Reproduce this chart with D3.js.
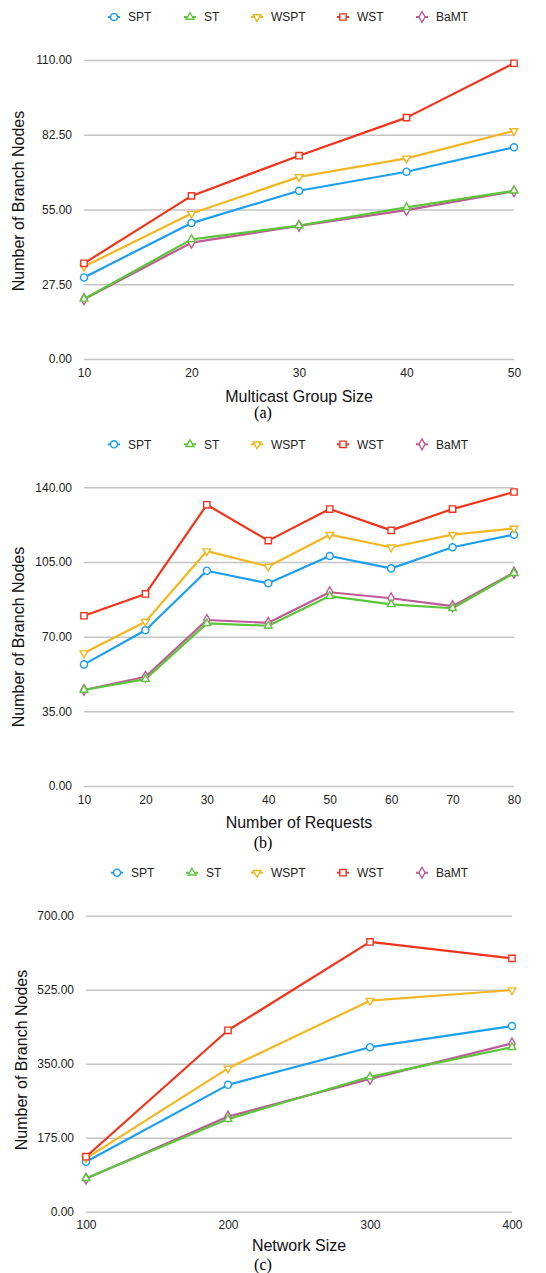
<!DOCTYPE html>
<html>
<head>
<meta charset="utf-8">
<script src="https://cdn.jsdelivr.net/npm/d3@7"></script>
<style>
  body { margin: 0; background: #fff; }
  svg { display: block; font-family: "Liberation Sans", Arial, sans-serif; }
</style>
</head>
<body>
<div id="chart"></div>
<script>
// series names, shared by the three panels
const seriesNames = ["SPT", "ST", "WSPT", "WST", "BaMT"];

// (a) Multicast Group Size
const groupSizes = [10, 20, 30, 40, 50];
const groupTicks = [0, 27.5, 55, 82.5, 110];
const groupSPT  = [30.0, 50.0, 61.9, 68.9, 77.9];
const groupST   = [22.1, 44.0, 49.1, 55.8, 61.9];
const groupWSPT = [34.0, 53.5, 67.0, 73.8, 83.9];
const groupWST  = [35.2, 60.0, 74.8, 88.8, 108.8];
const groupBaMT = [22.0, 42.8, 49.0, 54.8, 61.7];

// (b) Number of Requests
const requests = [10, 20, 30, 40, 50, 60, 70, 80];
const requestTicks = [0, 35, 70, 105, 140];
const reqSPT  = [57.0, 73.0, 100.9, 95.0, 107.8, 102.0, 111.9, 117.8];
const reqST   = [45.0, 50.1, 76.2, 75.1, 89.0, 85.1, 83.3, 99.7];
const reqWSPT = [62.3, 77.0, 110.1, 102.9, 117.8, 111.9, 117.8, 120.7];
const reqWST  = [79.8, 90.0, 131.8, 115.0, 129.8, 119.8, 129.8, 137.8];
const reqBaMT = [45.0, 51.2, 77.8, 76.5, 90.8, 88.0, 84.3, 100.0];

// (c) Network Size
const netSizes = [100, 200, 300, 400];
const netTicks = [0, 175, 350, 525, 700];
const netSPT  = [118, 300, 389, 439];
const netST   = [79, 219, 319, 389];
const netWSPT = [126, 339, 499, 524];
const netWST  = [130, 429, 638, 599];
const netBaMT = [78, 225, 314, 398];

const colors = { SPT: "#1a9ff0", ST: "#5cc63a", WSPT: "#f2b620", WST: "#f2331a", BaMT: "#bf5a96" };
const symbols = {
  SPT: d3.symbolCircle, ST: d3.symbolTriangle, WSPT: d3.symbolTriangle,
  WST: d3.symbolSquare, BaMT: d3.symbolDiamond
};
const symbolSize = { SPT: 40, ST: 26, WSPT: 26, WST: 40, BaMT: 34 };
// draw order: green over pink, as in the picture
const drawOrder = ["BaMT", "ST", "SPT", "WSPT", "WST"];

const width = 546, height = 1273;
const svg = d3.select("#chart").append("svg")
  .attr("width", width)
  .attr("height", height);

const panels = [
  { xs: groupSizes, ticks: groupTicks, title: "Multicast Group Size", caption: "(a)",
    data: { SPT: groupSPT, ST: groupST, WSPT: groupWSPT, WST: groupWST, BaMT: groupBaMT },
    x0: 84, x1: 514, top: 60, bottom: 359, ylabel: 201, ylabelX: 18, titleY: 396, captionY: 418,
    legendX: [114, 190, 257, 343, 422] },
  { xs: requests, ticks: requestTicks, title: "Number of Requests", caption: "(b)",
    data: { SPT: reqSPT, ST: reqST, WSPT: reqWSPT, WST: reqWST, BaMT: reqBaMT },
    x0: 84, x1: 514, top: 487.3, bottom: 786, ylabel: 637, ylabelX: 18, titleY: 822, captionY: 847.5,
    legendX: [114, 190, 257, 343, 422] },
  { xs: netSizes, ticks: netTicks, title: "Network Size", caption: "(c)",
    data: { SPT: netSPT, ST: netST, WSPT: netWSPT, WST: netWST, BaMT: netBaMT },
    x0: 86, x1: 512, top: 915.7, bottom: 1211.7, ylabel: 1060, ylabelX: 21, titleY: 1245.5, captionY: 1269.5,
    legendX: [117, 192, 257, 343, 422] }
];

panels.forEach(p => drawPanel(p));

function drawPanel(p) {
  const g = svg.append("g");
  const x = d3.scaleLinear()
    .domain(d3.extent(p.xs))
    .range([p.x0, p.x1]);
  const y = d3.scaleLinear()
    .domain([0, d3.max(p.ticks)])
    .range([p.bottom, p.top]);

  // gridlines + y tick labels
  const yAxis = g.append("g")
    .attr("transform", "translate(" + p.x0 + ",0)")
    .call(d3.axisLeft(y).tickValues(p.ticks).tickFormat(d3.format(".2f"))
      .tickSize(-(p.x1 - p.x0)).tickPadding(12));
  yAxis.select(".domain").remove();
  yAxis.selectAll("line").attr("stroke", "#c4c4c4").attr("stroke-width", 1.5);
  yAxis.selectAll("text").attr("font-size", 12).attr("fill", "#222")
    .attr("font-family", "Liberation Sans, Arial, sans-serif");

  // x tick labels
  const xAxis = g.append("g")
    .attr("transform", "translate(0," + p.bottom + ")")
    .call(d3.axisBottom(x).tickValues(p.xs).tickSize(0).tickPadding(9));
  xAxis.select(".domain").remove();
  xAxis.selectAll("text").attr("font-size", 12).attr("fill", "#222")
    .attr("font-family", "Liberation Sans, Arial, sans-serif");

  // lines
  const line = d3.line()
    .x((d, i) => x(p.xs[i]))
    .y(d => y(d));
  drawOrder.forEach(name => {
    g.append("path")
      .datum(p.data[name])
      .attr("fill", "none")
      .attr("stroke", colors[name])
      .attr("stroke-width", 2.2)
      .attr("stroke-linejoin", "round")
      .attr("d", line);
  });
  drawOrder.forEach(name => {
    g.selectAll(null)
      .data(p.data[name])
      .enter().append("path")
      .attr("d", d3.symbol().type(symbols[name]).size(symbolSize[name]))
      .attr("transform", (d, i) => "translate(" + x(p.xs[i]) + "," + y(d) + ")" +
        (name === "WSPT" ? " rotate(180)" : ""))
      .attr("fill", "#fff")
      .attr("stroke", colors[name])
      .attr("stroke-width", 1.4);
  });

  // legend
  const ly = p.top - 43;
  seriesNames.forEach((name, i) => {
    const lx = p.legendX[i];
    g.append("line")
      .attr("x1", lx - 6).attr("x2", lx + 6)
      .attr("y1", ly).attr("y2", ly)
      .attr("stroke", colors[name]).attr("stroke-width", 2);
    g.append("path")
      .attr("d", d3.symbol().type(symbols[name]).size(symbolSize[name]))
      .attr("transform", "translate(" + lx + "," + ly + ")" + (name === "WSPT" ? " rotate(180)" : ""))
      .attr("fill", "#fff")
      .attr("stroke", colors[name])
      .attr("stroke-width", 1.4);
    g.append("text")
      .attr("x", lx + 14)
      .attr("y", ly)
      .attr("dy", "0.35em")
      .attr("font-size", 12)
      .attr("fill", "#222")
      .text(name);
  });

  // axis titles
  g.append("text")
    .attr("transform", "translate(" + p.ylabelX + "," + p.ylabel + ") rotate(-90)")
    .attr("text-anchor", "middle")
    .attr("dy", "0.35em")
    .attr("font-size", 16)
    .attr("fill", "#111")
    .text("Number of Branch Nodes");
  g.append("text")
    .attr("x", 299)
    .attr("y", p.titleY)
    .attr("text-anchor", "middle")
    .attr("dy", "0.35em")
    .attr("font-size", 16)
    .attr("fill", "#111")
    .text(p.title);
  // caption: y is the baseline
  g.append("text")
    .attr("x", 263)
    .attr("y", p.captionY)
    .attr("text-anchor", "middle")
    .attr("font-size", 16)
    .attr("font-family", "Liberation Serif, Times New Roman, serif")
    .attr("fill", "#000")
    .text(p.caption);
}
</script>
</body>
</html>
